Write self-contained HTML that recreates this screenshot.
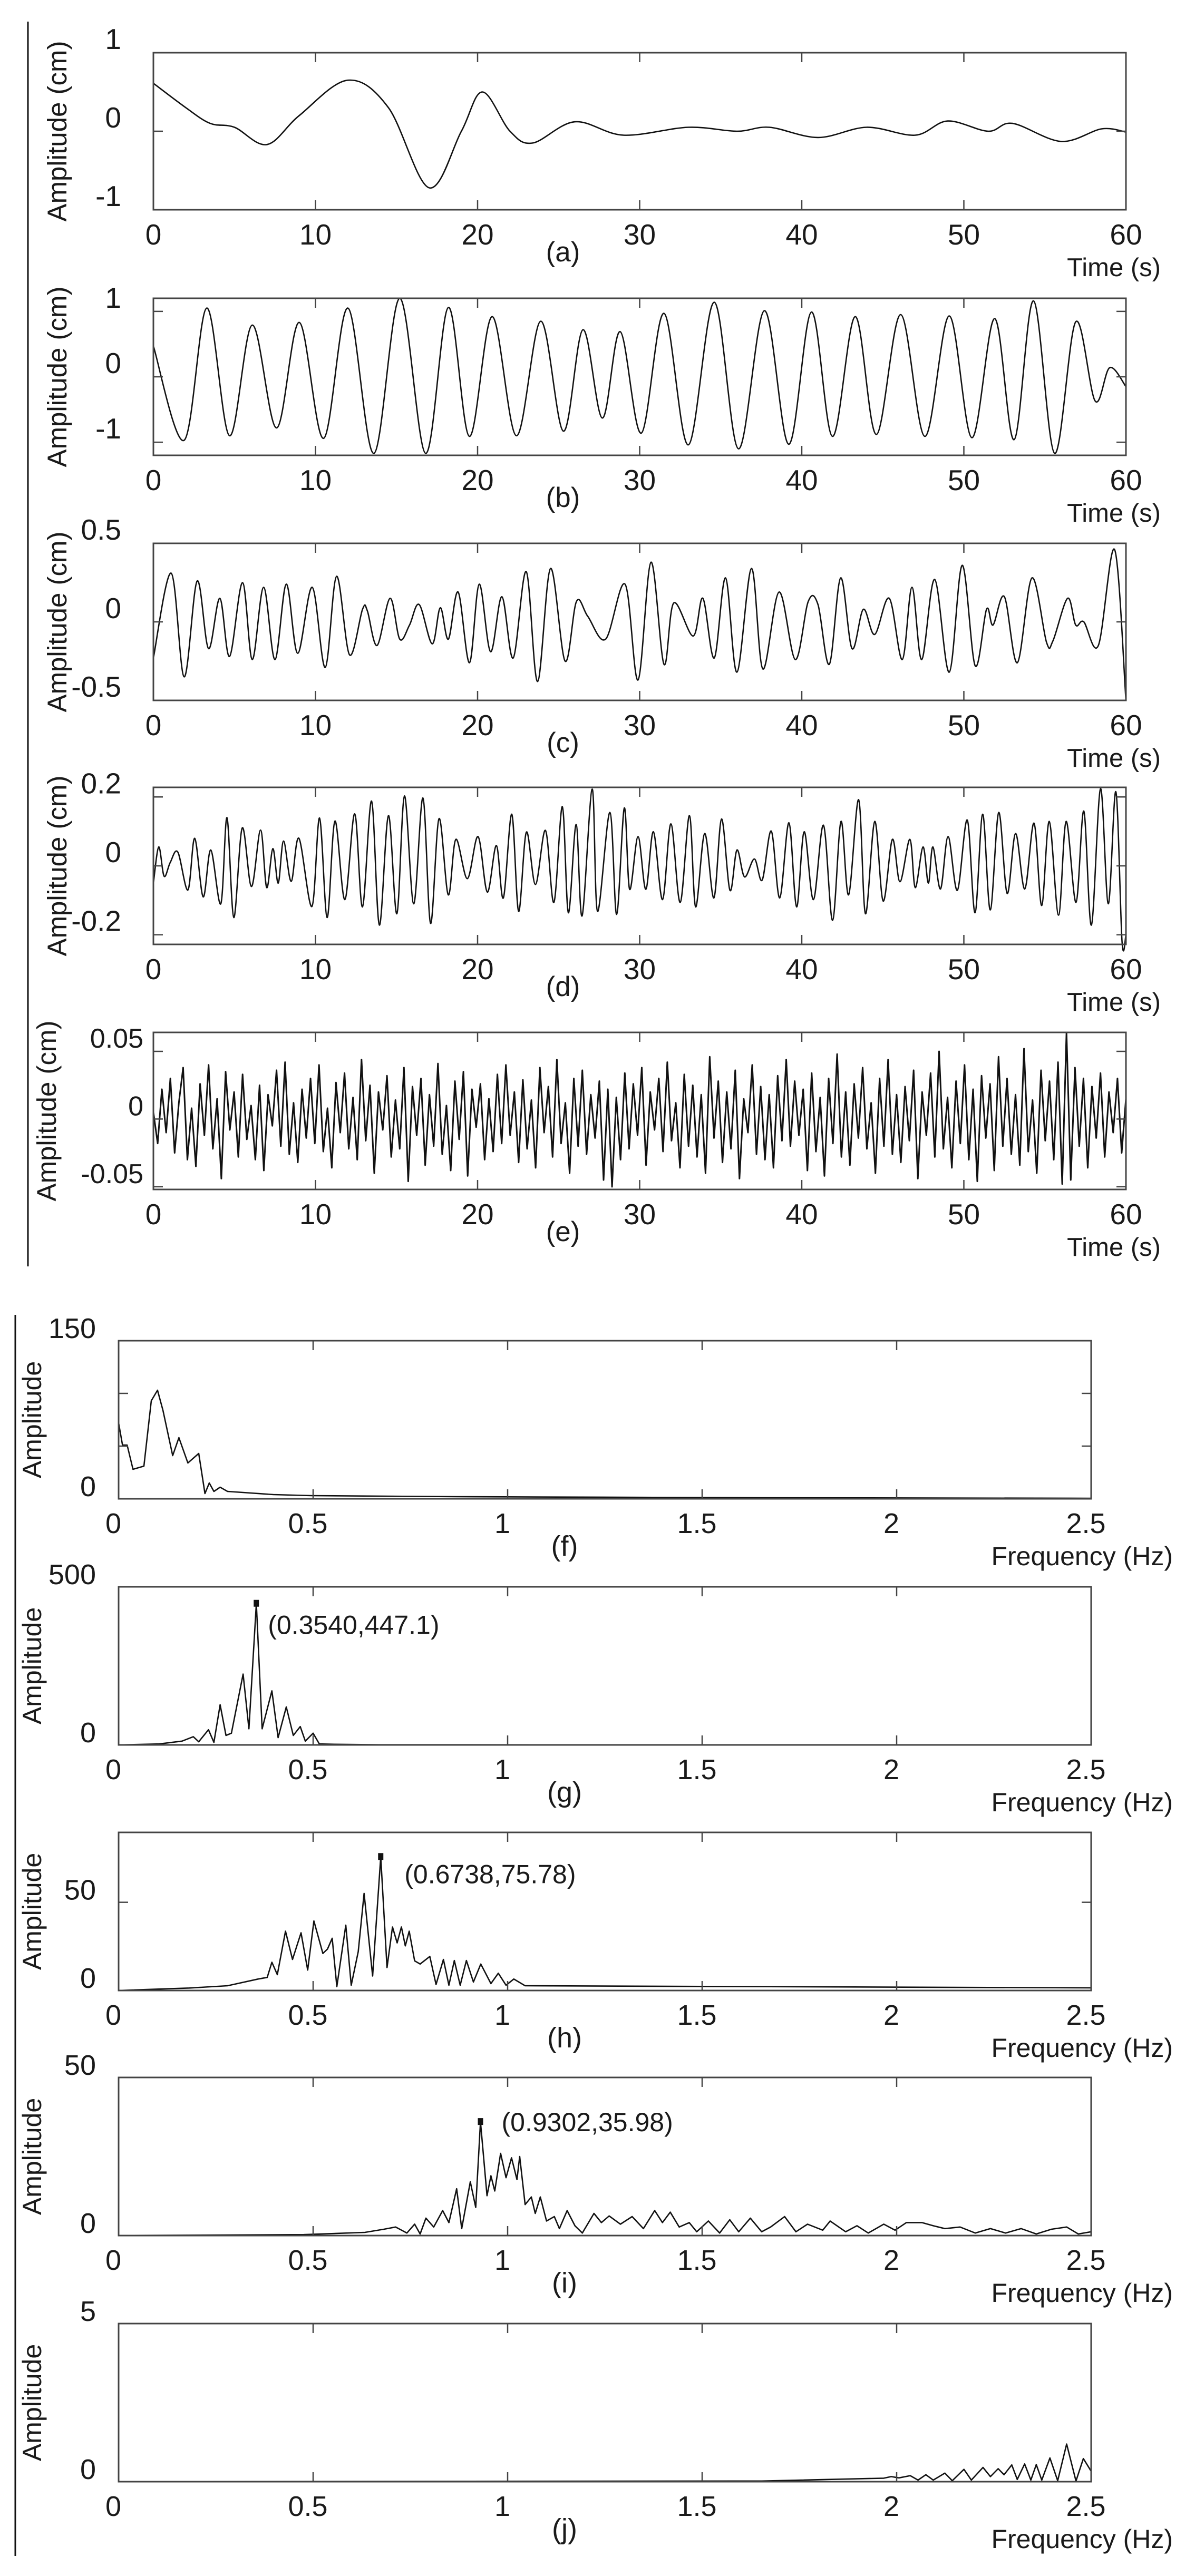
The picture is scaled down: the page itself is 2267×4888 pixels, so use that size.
<!DOCTYPE html>
<html><head><meta charset="utf-8"><title>Signal decomposition and spectra</title>
<style>
html,body{margin:0;padding:0;background:#fff;}
svg{display:block;}
text{font-family:"Liberation Sans",Arial,sans-serif;fill:#1a1a1a;}
</style></head>
<body>
<svg id="fig" xmlns="http://www.w3.org/2000/svg" width="2267" height="4888" viewBox="0 0 2267 4888">
<rect x="0" y="0" width="2267" height="4888" fill="#fff"/>
<line x1="53" y1="41" x2="53" y2="2403" stroke="#111" stroke-width="3"/>
<line x1="29" y1="2495" x2="29" y2="4850" stroke="#111" stroke-width="3"/>
</svg>
<script>
// ---------- data: time series (t in s, amplitude in cm) ----------
const aT=[0,2,3.5,5,7,9,12,14.5,17,19,20.3,22,23.4,26,29,33,36,38,41,44,47,49,51.5,53,56,58.5,60];
const aV=[0.61,0.3,0.1,0.05,-0.17,0.2,0.65,0.3,-0.72,0,0.5,0.0,-0.15,0.12,-0.05,0.05,0.0,0.05,-0.08,0.05,-0.05,0.13,0.0,0.1,-0.13,0.03,-0.01];
const bT=[0,1.9,3.3,4.7,6.1,7.6,9.0,10.5,12.0,13.6,15.2,16.8,18.2,19.5,20.9,22.4,23.9,25.3,26.5,27.7,28.8,30.1,31.5,33.0,34.6,36.1,37.7,39.2,40.6,41.9,43.3,44.6,46.1,47.6,49.1,50.5,51.9,53.1,54.3,55.6,56.9,58.1,59.0,60];
const bV=[0.47,-0.97,1.05,-0.9,0.79,-0.78,0.83,-0.94,1.05,-1.17,1.2,-1.17,1.06,-0.91,0.92,-0.9,0.85,-0.83,0.72,-0.63,0.69,-0.86,0.97,-1.04,1.14,-1.1,1.01,-1.03,0.99,-0.91,0.92,-0.88,0.95,-0.91,0.93,-0.93,0.89,-0.96,1.16,-1.17,0.84,-0.37,0.14,-0.15];
const cT=[0,1.1,1.9,2.7,3.4,4.1,4.7,5.5,6.1,6.8,7.5,8.2,8.9,9.8,10.6,11.3,12.1,12.9,13.2,13.8,14.6,15.2,15.8,16.4,17.2,17.7,18.2,18.8,19.5,20.1,20.8,21.5,22.2,23.0,23.7,24.5,25.4,26.1,26.8,27.9,29.1,29.9,30.7,31.5,32.1,33.3,33.9,34.6,35.3,36.0,36.9,37.6,38.6,39.6,40.4,41.0,41.7,42.4,43.1,43.8,44.5,45.4,46.2,46.8,47.4,48.2,49.1,49.9,50.7,51.4,51.8,52.5,53.3,54.2,55.1,55.5,56.4,56.9,57.4,58.3,59.3,60];
const cV=[-0.23,0.31,-0.35,0.26,-0.17,0.15,-0.22,0.25,-0.24,0.22,-0.24,0.24,-0.2,0.22,-0.29,0.29,-0.21,0.08,0.07,-0.15,0.15,-0.11,-0.02,0.11,-0.14,0.09,-0.11,0.19,-0.26,0.24,-0.19,0.16,-0.23,0.32,-0.38,0.34,-0.25,0.13,0.035,-0.11,0.24,-0.37,0.38,-0.27,0.12,-0.09,0.15,-0.23,0.28,-0.32,0.34,-0.3,0.19,-0.24,0.13,0.11,-0.27,0.28,-0.17,0.08,-0.08,0.15,-0.24,0.22,-0.24,0.27,-0.32,0.36,-0.28,0.08,-0.02,0.16,-0.26,0.28,-0.13,-0.12,0.15,-0.02,0.0,-0.15,0.46,-0.5];
const dT=[0,0.33,0.66,1.04,1.51,2.13,2.55,3.07,3.54,4.16,4.54,4.96,5.48,6.05,6.61,6.99,7.37,7.70,8.03,8.50,8.98,9.78,10.25,10.72,11.20,11.81,12.42,12.90,13.46,13.94,14.50,15.02,15.49,16.06,16.63,17.10,17.62,18.19,18.66,19.37,20.03,20.60,21.16,21.59,22.11,22.53,23.01,23.57,24.19,24.71,25.23,25.60,26.08,26.45,27.07,27.40,28.16,28.58,29.05,29.38,29.90,30.38,30.85,31.41,31.93,32.50,33.07,33.45,34.01,34.58,35.05,35.57,36.00,36.47,37.08,37.56,38.12,38.64,39.21,39.68,40.15,40.72,41.34,41.90,42.42,42.89,43.51,43.93,44.50,45.02,45.59,46.06,46.67,47.00,47.48,47.81,48.09,48.56,49.03,49.60,50.21,50.69,51.16,51.63,52.15,52.67,53.19,53.76,54.33,54.80,55.27,55.84,56.31,56.92,57.40,57.87,58.43,58.91,59.38,59.76,60];
const dV=[-0.05,0.055,-0.03,0.01,0.04,-0.07,0.08,-0.09,0.046,-0.11,0.14,-0.15,0.11,-0.06,0.104,-0.063,0.05,-0.05,0.072,-0.045,0.08,-0.118,0.139,-0.15,0.13,-0.098,0.151,-0.119,0.188,-0.172,0.146,-0.139,0.203,-0.11,0.197,-0.167,0.137,-0.084,0.077,-0.037,0.085,-0.076,0.059,-0.093,0.15,-0.132,0.098,-0.054,0.103,-0.106,0.172,-0.136,0.12,-0.145,0.223,-0.132,0.155,-0.141,0.168,-0.068,0.085,-0.068,0.099,-0.098,0.122,-0.106,0.146,-0.119,0.094,-0.093,0.136,-0.071,0.046,-0.032,0.02,-0.041,0.101,-0.093,0.125,-0.119,0.099,-0.098,0.118,-0.158,0.129,-0.084,0.192,-0.139,0.129,-0.102,0.077,-0.046,0.077,-0.063,0.055,-0.05,0.055,-0.067,0.085,-0.071,0.133,-0.136,0.15,-0.128,0.155,-0.08,0.094,-0.067,0.124,-0.115,0.129,-0.143,0.129,-0.106,0.159,-0.172,0.224,-0.11,0.215,-0.22,-0.2];
// noise residual, values in 0.001 cm, evenly spaced over 0..60 s
const eV=[5,-18,22,-10,30,-25,12,38,-30,8,-35,26,-12,40,-22,15,-44,35,-8,20,
-28,33,-15,10,-30,25,-38,18,-5,36,-20,42,-26,12,-32,22,-14,30,-18,40,
-24,8,-36,27,-10,34,-22,16,-30,44,-16,25,-40,20,-8,32,-28,14,-22,38,
-46,24,-12,30,-34,18,-20,41,-26,10,-38,28,-15,35,-42,22,-6,26,-30,15,
-24,33,-18,40,-12,20,-32,29,-22,14,-36,38,-10,24,-28,44,-18,12,-40,30,
-20,36,-26,18,-14,28,-45,22,-50,16,-30,34,-22,26,-12,38,-34,20,-8,30,
-24,42,-16,12,-36,33,-20,25,-28,18,-40,46,-14,28,-32,20,-22,36,-44,15,
-10,40,-26,24,-30,18,-36,32,-16,44,-20,28,-12,22,-38,34,-24,16,-42,30,
-18,48,-28,20,-34,26,-14,38,-22,12,-40,30,-20,44,-26,18,-32,24,-16,36,
-44,20,-12,34,-28,50,-22,16,-36,28,-18,40,-30,22,-46,32,-14,26,-38,46,
-20,30,-26,18,-34,52,-24,14,-40,36,-16,28,-30,42,-48,64,-45,38,-20,30,
-36,24,-14,34,-28,20,-10,30,-25,15];
// ---------- data: spectra (frequency in Hz, amplitude) ----------
const fF=[0,0.01,0.022,0.037,0.065,0.084,0.1,0.114,0.139,0.155,0.178,0.206,0.222,0.233,0.245,0.261,0.28,0.32,0.398,0.496,0.869,1.653,2.5];
const fA=[72,51,51,28,31,93,103,84,41,58,34,43,5,15,7,11,7,6,4,3,2,1,0.5];
const gF=[0,0.104,0.163,0.192,0.206,0.231,0.245,0.261,0.276,0.29,0.32,0.335,0.354,0.369,0.394,0.41,0.431,0.449,0.467,0.48,0.5,0.516,0.555,0.673,2.5];
const gA=[0,3,12,26,10,48,8,127,30,37,224,51,447.1,51,171,23,120,30,58,12,37,3,2,0.5,0];
const hF=[0,0.182,0.28,0.359,0.382,0.394,0.408,0.429,0.447,0.469,0.486,0.502,0.525,0.537,0.549,0.561,0.584,0.598,0.616,0.631,0.653,0.6738,0.69,0.704,0.716,0.727,0.737,0.747,0.761,0.775,0.8,0.816,0.835,0.849,0.863,0.878,0.894,0.912,0.931,0.957,0.976,0.996,1.016,1.045,2.5];
const hA=[0,1.4,2.7,6.5,7.4,16,9,33.6,17.6,32.7,11.6,39.4,21,23.5,29.6,2.2,37,3,22,55,8.2,75.78,13,36,27,36,25.3,33.6,16.8,15,19.3,3.4,17.6,3,17,3,17,4.8,15,3.9,9.8,3,6.5,2.7,1.5];
const iF=[0,0.476,0.633,0.682,0.712,0.741,0.761,0.775,0.79,0.81,0.833,0.849,0.869,0.882,0.904,0.918,0.9302,0.947,0.957,0.967,0.982,0.996,1.01,1.024,1.031,1.045,1.061,1.071,1.084,1.1,1.12,1.133,1.153,1.173,1.192,1.222,1.241,1.261,1.29,1.32,1.349,1.378,1.398,1.418,1.441,1.467,1.486,1.516,1.545,1.571,1.594,1.624,1.653,1.676,1.712,1.741,1.771,1.81,1.829,1.869,1.898,1.927,1.967,1.996,2.025,2.065,2.094,2.124,2.163,2.202,2.241,2.28,2.32,2.359,2.398,2.437,2.467,2.5];
const iA=[0,0.3,1.0,2,2.7,0.8,3.6,0.5,5.5,2.7,7.9,4.1,14.8,2.2,17,8.9,35.98,12.6,18.9,14.1,26,18.3,24.6,17.7,25,9.8,12.2,7,12.2,4.6,6,2.2,7.9,3.1,0.8,7,4.1,6.2,3.6,6,2.2,7.9,4.1,7.4,2.7,4.1,1.2,4.6,0.8,5,1.2,5.5,1.2,2.7,6,1.2,3.6,1.7,4.6,1.2,3.1,0.8,3.6,1.7,4.1,4.1,3.1,2.2,2.7,0.8,2.2,0.8,2.2,0.5,2,2.7,0.5,1.2];
const jF=[0,1.653,1.967,1.986,2.006,2.035,2.055,2.075,2.094,2.124,2.143,2.173,2.192,2.222,2.241,2.261,2.276,2.296,2.31,2.329,2.345,2.359,2.373,2.394,2.414,2.437,2.461,2.48,2.5];
const jA=[0,0.02,0.11,0.16,0.12,0.19,0.05,0.22,0.05,0.27,0.03,0.39,0.05,0.45,0.16,0.41,0.22,0.53,0.07,0.56,0.05,0.54,0.05,0.75,0.03,1.19,0.02,0.73,0.33];
// ---------- tick labels ----------
const timeTicks=[0,10,20,30,40,50,60];
const freqTicks=[0,0.5,1,1.5,2,2.5];
const aYTicks=[1,0,-1], bYTicks=[1,0,-1], cYTicks=[0.5,0,-0.5], dYTicks=[0.2,0,-0.2], eYTicks=[0.05,0,-0.05];
const fYLabels=[150,0], fYTicks=[50,100];
const gYLabels=[500,0], hYLabels=[50,0], hYTicks=[50], iYLabels=[50,0], jYLabels=[5,0];
const gPeak=[0.354,447.1], hPeak=[0.6738,75.78], iPeak=[0.9302,35.98];
const gPeakLabel="(0.3540,447.1)", hPeakLabel="(0.6738,75.78)", iPeakLabel="(0.9302,35.98)";

const NS="http://www.w3.org/2000/svg";
const svg=document.getElementById('fig');
function mk(tag,attrs,parent){const e=document.createElementNS(NS,tag);for(const k in attrs)e.setAttribute(k,attrs[k]);(parent||svg).appendChild(e);return e;}

function panel(cfg){
  const g=mk('g',{});
  
  
  const L=cfg.x0,R=cfg.x1,T=cfg.top,B=cfg.top+cfg.h;
  const xs=v=>L+(v-cfg.xd[0])/(cfg.xd[1]-cfg.xd[0])*(R-L);
  const ys=v=>B-(v-cfg.yd[0])/(cfg.yd[1]-cfg.yd[0])*(B-T);
  let d='';
  const X=cfg.xs.map(xs), Y=cfg.ys.map(ys);
  if(cfg.smooth){
    d='M'+X[0].toFixed(1)+','+Y[0].toFixed(1);
    for(let i=0;i<X.length-1;i++){
      const i0=Math.max(0,i-1),i3=Math.min(X.length-1,i+2);
      const c1x=X[i]+(X[i+1]-X[i0])/6, c1y=Y[i]+(Y[i+1]-Y[i0])/6;
      const c2x=X[i+1]-(X[i3]-X[i])/6, c2y=Y[i+1]-(Y[i3]-Y[i])/6;
      d+='C'+c1x.toFixed(1)+','+c1y.toFixed(1)+' '+c2x.toFixed(1)+','+c2y.toFixed(1)+' '+X[i+1].toFixed(1)+','+Y[i+1].toFixed(1);
    }
  } else {
    for(let i=0;i<X.length;i++){d+=(i?'L':'M')+X[i].toFixed(1)+','+Y[i].toFixed(1);}
  }
  const p=mk('path',{d:d,fill:'none',stroke:'#111','stroke-width':cfg.sw||2.6,'stroke-linejoin':'round'},g);
  
  
  const box=mk('rect',{x:L,y:T,width:R-L,height:B-T,fill:'none',stroke:'#444','stroke-width':3},g);
  
  
  cfg.xt.forEach(v=>{
    const x=xs(v);
    mk('line',{x1:x,y1:B,x2:x,y2:B-18,stroke:'#444','stroke-width':2.5},g);
    mk('line',{x1:x,y1:T,x2:x,y2:T+18,stroke:'#444','stroke-width':2.5},g);
    const t=mk('text',{x:x-cfg.xlShift,y:B+cfg.xlDy,'font-size':cfg.tf,'text-anchor':'middle'},g);
    t.textContent=String(v);
    
    
  });
  cfg.yt.forEach(v=>{
    const y=ys(v);
    mk('line',{x1:L,y1:y,x2:L+18,y2:y,stroke:'#444','stroke-width':2.5},g);
    mk('line',{x1:R,y1:y,x2:R-18,y2:y,stroke:'#444','stroke-width':2.5},g);
  });
  cfg.yl.forEach(v=>{
    const t=mk('text',{x:cfg.ylRight,y:ys(v)+cfg.ylDy,'font-size':cfg.ylf||cfg.tf,'text-anchor':'end'},g);
    t.textContent=String(v);
    
    
  });
  const yt=mk('text',{x:0,y:0,'font-size':cfg.yf,'text-anchor':'middle',transform:'translate('+cfg.ytX+','+((T+B)/2)+') rotate(-90)'},g);
  yt.textContent=cfg.ytitle;
  
  
  const xt=mk('text',{x:cfg.xtRight,y:B+cfg.xtDy,'font-size':cfg.xf,'text-anchor':'end'},g);
  xt.textContent=cfg.xtitle;
  
  
  const pl=mk('text',{x:cfg.letterX,y:B+cfg.letterDy,'font-size':cfg.xf+4,'text-anchor':'middle'},g);
  pl.textContent=cfg.letter;
  
  
  if(cfg.peak){
    const px=xs(cfg.peak[0]),py=ys(cfg.peak[1]);
    const m=mk('rect',{x:px-5,y:py-7,width:10,height:13,fill:'#111'},g);
    
    
    const pt=mk('text',{x:px+cfg.peakDx,y:py+cfg.peakDy,'font-size':50},g);
    pt.textContent=cfg.peakLabel;
    
    
  }
}

const eT=eV.map((v,i)=>i*60/(eV.length-1));
const eA=eV.map(v=>v/1000);

const timeBase={x0:291,x1:2136,h:298,xd:[0,60],xt:timeTicks,tf:55,yf:51,ytX:126,ylRight:230,ylDy:-7,xlDy:66,xlShift:0,xtitle:'Time (s)',xtRight:2202,xtDy:126,xf:49,letterX:1068,letterDy:98,ytitle:'Amplitude (cm)'};
const freqBase={x0:225,x1:2070,h:300,xd:[0,2.5],xt:freqTicks,tf:54,yf:50,ytX:78,ylRight:182,ylDy:-5,xlDy:65,xlShift:10,xtitle:'Frequency (Hz)',xtRight:2225,xtDy:126,xf:50,letterX:1071,letterDy:108,ytitle:'Amplitude'};

panel(Object.assign({},timeBase,{name:'panel-a',top:100,yd:[-1,1],xs:aT,ys:aV,smooth:true,yt:aYTicks,yl:aYTicks,letter:'(a)'}));
panel(Object.assign({},timeBase,{name:'panel-b',top:566,yd:[-1.2,1.2],xs:bT,ys:bV,smooth:true,yt:bYTicks,yl:bYTicks,letter:'(b)'}));
panel(Object.assign({},timeBase,{name:'panel-c',top:1031,yd:[-0.5,0.5],xs:cT,ys:cV,smooth:true,yt:cYTicks,yl:cYTicks,letter:'(c)'}));
panel(Object.assign({},timeBase,{name:'panel-d',top:1494,yd:[-0.228,0.228],xs:dT,ys:dV,smooth:true,yt:dYTicks,yl:dYTicks,letter:'(d)'}));
panel(Object.assign({},timeBase,{name:'panel-e',top:1959,yd:[-0.052,0.064],xs:eT,ys:eA,smooth:false,sw:3,yt:eYTicks,yl:eYTicks,ylRight:272,ylf:52,ytX:106,letter:'(e)'}));

panel(Object.assign({},freqBase,{name:'panel-f',top:2544,yd:[0,150],xs:fF,ys:fA,yt:fYTicks,yl:fYLabels,letter:'(f)'}));
panel(Object.assign({},freqBase,{name:'panel-g',top:3011,yd:[0,500],xs:gF,ys:gA,yt:[],yl:gYLabels,letter:'(g)',peak:gPeak,peakLabel:gPeakLabel,peakDx:22,peakDy:58}));
panel(Object.assign({},freqBase,{name:'panel-h',top:3477,yd:[0,89.6],xs:hF,ys:hA,yt:hYTicks,yl:hYLabels,letter:'(h)',peak:hPeak,peakDx:45,peakDy:50,peakLabel:hPeakLabel}));
panel(Object.assign({},freqBase,{name:'panel-i',top:3942,yd:[0,50],xs:iF,ys:iA,yt:[],yl:iYLabels,letter:'(i)',peak:iPeak,peakDx:40,peakDy:18,peakLabel:iPeakLabel}));
panel(Object.assign({},freqBase,{name:'panel-j',top:4409,yd:[0,5],xs:jF,ys:jA,yt:[],yl:jYLabels,letter:'(j)'}));
</script>
</body></html>
